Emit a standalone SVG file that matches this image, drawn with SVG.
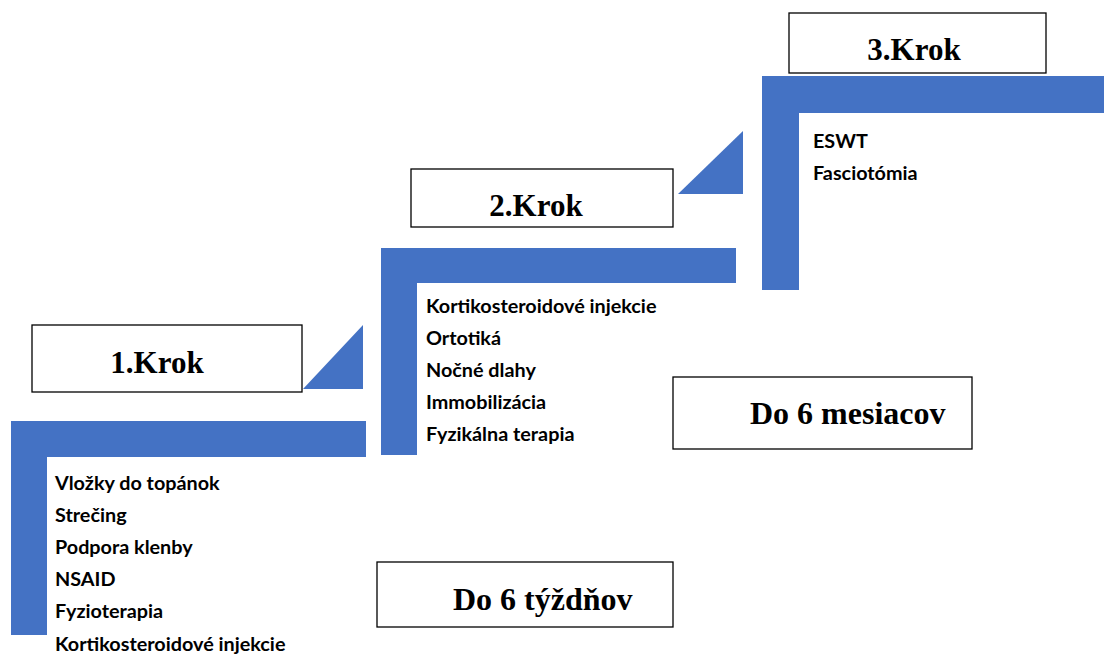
<svg xmlns="http://www.w3.org/2000/svg" width="1104" height="654" viewBox="0 0 1104 654">
<style>
.step{fill:#4472C4}
.box{fill:#fff;stroke:#000;stroke-width:1.3}
.h{font-family:"Liberation Serif",serif;font-weight:bold;font-size:31px;fill:#000}
.t{font-family:"Liberation Serif",serif;font-weight:bold;font-size:32px;fill:#000}
.li{font-family:Lato,"Liberation Sans",sans-serif;font-weight:bold;font-size:19.8px;fill:#000}
</style>
<rect width="1104" height="654" fill="#fff"/>
<g id="connectors">
<polygon class="step" points="303,389 363,325 363,389"/>
<polygon class="step" points="678,194 743,131 743,194"/>
</g>
<g id="step1">
<path class="step" d="M11,421 H366 V457 H47 V635 H11 Z"/>
<text class="li" x="55" y="490">Vložky do topánok</text>
<text class="li" x="55" y="522">Strečing</text>
<text class="li" x="55" y="554">Podpora klenby</text>
<text class="li" x="55" y="586">NSAID</text>
<text class="li" x="55" y="618">Fyzioterapia</text>
<text class="li" x="55" y="651">Kortikosteroidové injekcie</text>
</g>
<g id="krok1">
<rect class="box" x="32" y="325" width="270" height="67"/>
<text class="h" x="157" y="373" text-anchor="middle">1.Krok</text>
</g>
<g id="step2">
<path class="step" d="M381,248 H736 V283 H417 V455 H381 Z"/>
<text class="li" x="426" y="313">Kortikosteroidové injekcie</text>
<text class="li" x="426" y="345">Ortotiká</text>
<text class="li" x="426" y="377">Nočné dlahy</text>
<text class="li" x="426" y="409">Immobilizácia</text>
<text class="li" x="426" y="441">Fyzikálna terapia</text>
</g>
<g id="krok2">
<rect class="box" x="411" y="169" width="262" height="58"/>
<text class="h" x="536" y="216" text-anchor="middle">2.Krok</text>
</g>
<g id="step3">
<path class="step" d="M762,76 H1104 V113 H799 V290 H762 Z"/>
<text class="li" x="813" y="148">ESWT</text>
<text class="li" x="813" y="180">Fasciotómia</text>
</g>
<g id="krok3">
<rect class="box" x="789" y="13" width="257" height="60"/>
<text class="h" x="914" y="60" text-anchor="middle">3.Krok</text>
</g>
<g id="mesiacov">
<rect class="box" x="673" y="377" width="299" height="72"/>
<text class="t" x="750" y="424">Do 6 mesiacov</text>
</g>
<g id="tyzdnov">
<rect class="box" x="377" y="562" width="296" height="65"/>
<text class="t" x="453" y="610">Do 6 týždňov</text>
</g>
</svg>
